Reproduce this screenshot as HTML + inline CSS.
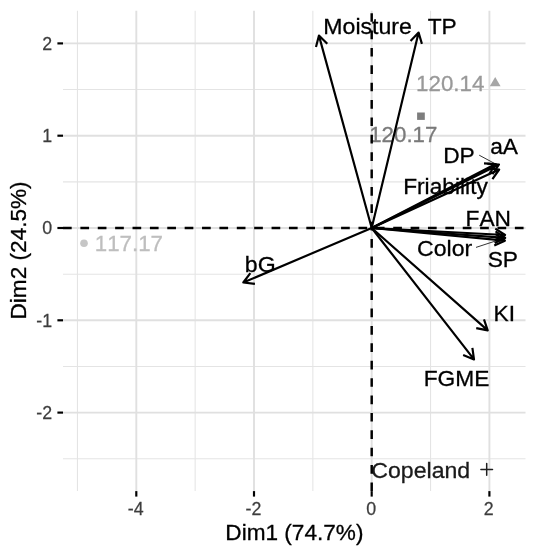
<!DOCTYPE html>
<html lang="en"><head><meta charset="utf-8"><title>PCA biplot</title>
<style>html,body{margin:0;padding:0;background:#fff}body{width:537px;height:550px;overflow:hidden}svg{display:block}text{font-family:"Liberation Sans",sans-serif;font-kerning:none}</style></head><body>
<svg width="537" height="550" viewBox="0 0 537 550">
<rect width="537" height="550" fill="#fff"/>
<g stroke="#e4e4e4" stroke-width="1.05" fill="none">
<line x1="77.45" y1="10.7" x2="77.45" y2="491.1"/>
<line x1="195.15" y1="10.7" x2="195.15" y2="491.1"/>
<line x1="312.85" y1="10.7" x2="312.85" y2="491.1"/>
<line x1="430.55" y1="10.7" x2="430.55" y2="491.1"/>
<line x1="63.0" y1="89.55" x2="525.5" y2="89.55"/>
<line x1="63.0" y1="181.85" x2="525.5" y2="181.85"/>
<line x1="63.0" y1="274.15" x2="525.5" y2="274.15"/>
<line x1="63.0" y1="366.45" x2="525.5" y2="366.45"/>
<line x1="63.0" y1="458.75" x2="525.5" y2="458.75"/>
</g>
<g stroke="#e0e0e0" stroke-width="1.9" fill="none">
<line x1="136.30" y1="10.7" x2="136.30" y2="491.1"/>
<line x1="254.00" y1="10.7" x2="254.00" y2="491.1"/>
<line x1="371.70" y1="10.7" x2="371.70" y2="491.1"/>
<line x1="489.40" y1="10.7" x2="489.40" y2="491.1"/>
<line x1="63.0" y1="43.40" x2="525.5" y2="43.40"/>
<line x1="63.0" y1="135.70" x2="525.5" y2="135.70"/>
<line x1="63.0" y1="228.00" x2="525.5" y2="228.00"/>
<line x1="63.0" y1="320.30" x2="525.5" y2="320.30"/>
<line x1="63.0" y1="412.60" x2="525.5" y2="412.60"/>
</g>
<circle cx="84" cy="243.3" r="3.8" fill="#c6c6c6"/>
<text transform="translate(94.80 250.50) scale(1 1.02)" font-size="22.30" fill="#bebebe" stroke="#bebebe" stroke-width="0.3">117.17</text>
<path d="M495.2 77.0 L500.6 86.3 L489.8 86.3 Z" fill="#a6a6a6"/>
<text transform="translate(416.10 90.90) scale(1 1.02)" font-size="22.30" fill="#999999" stroke="#999999" stroke-width="0.3">120.14</text>
<rect x="417.1" y="112.5" width="7.7" height="7.4" fill="#7d7d7d"/>
<text transform="translate(369.20 142.10) scale(1 1.02)" font-size="22.30" fill="#7a7a7a" stroke="#7a7a7a" stroke-width="0.3">120.17</text>
<path d="M480.9 469.4 H492.5 M486.7 463.6 V475.2" stroke="#1f1f1f" stroke-width="1.5" stroke-linecap="round" fill="none"/>
<text transform="translate(371.33 478.00) scale(1 0.94)" font-size="23.10" fill="#1a1a1a" stroke="#1a1a1a" stroke-width="0.3">Copeland</text>
<g stroke="#000" stroke-width="2.45" fill="none" stroke-dasharray="8.69 8.69">
<line x1="63.0" y1="228.0" x2="525.5" y2="228.0"/>
<line x1="371.7" y1="491.1" x2="371.7" y2="10.7"/>
</g>
<g stroke="#000" stroke-width="2.17" fill="none" stroke-linejoin="round" stroke-linecap="butt">
<path d="M371.7 228.0 L318.95 35.6 M315.99 46.92 L318.95 35.6 L327.27 43.83"/>
<path d="M371.7 228.0 L418.6 32.6 M410.55 41.09 L418.6 32.6 L421.92 43.82"/>
<path d="M371.7 228.0 L499.0 164.5 M487.32 163.79 L499.0 164.5 L492.54 174.26"/>
<path d="M371.7 228.0 L495.7 164.0 M484.01 163.45 L495.7 164.0 L489.38 173.85"/>
<path d="M371.7 228.0 L499.2 169.5 M487.55 168.41 L499.2 169.5 L492.43 179.04"/>
<path d="M371.7 228.0 L505.1 235.0 M495.29 228.63 L505.1 235.0 L494.67 240.31"/>
<path d="M371.7 228.0 L505.2 237.9 M495.53 231.32 L505.2 237.9 L494.66 242.98"/>
<path d="M371.7 228.0 L504.9 240.7 M495.37 233.91 L504.9 240.7 L494.26 245.56"/>
<path d="M371.7 228.0 L487.7 330.4 M483.98 319.31 L487.7 330.4 L476.23 328.08"/>
<path d="M371.7 228.0 L474.0 359.4 M472.39 347.81 L474.0 359.4 L463.16 355.00"/>
<path d="M371.7 228.0 L243.3 282.5 M254.91 283.93 L243.3 282.5 L250.34 273.16"/>
</g>
<g stroke="#000" stroke-width="0.8" fill="none"><line x1="479.2" y1="155.2" x2="494.3" y2="163.3"/><line x1="476.0" y1="247.4" x2="496.5" y2="240.7"/></g>
<text transform="translate(323.31 34.10) scale(1 0.98)" font-size="23.10" fill="#000" stroke="#000" stroke-width="0.3">Moisture</text>
<text transform="translate(427.69 34.40) scale(1 0.98)" font-size="22.76" fill="#000" stroke="#000" stroke-width="0.3">TP</text>
<text transform="translate(443.13 162.60) scale(1 0.98)" font-size="22.76" fill="#000" stroke="#000" stroke-width="0.3">DP</text>
<text transform="translate(490.13 154.40) scale(1 0.94)" font-size="22.76" fill="#000" stroke="#000" stroke-width="0.3">aA</text>
<text transform="translate(403.13 193.70) scale(1 0.94)" font-size="22.76" fill="#000" stroke="#000" stroke-width="0.3">Friability</text>
<text transform="translate(465.53 225.80) scale(1 0.98)" font-size="22.76" fill="#000" stroke="#000" stroke-width="0.3">FAN</text>
<text transform="translate(417.03 256.10) scale(1 0.94)" font-size="23.10" fill="#000" stroke="#000" stroke-width="0.3">Color</text>
<text transform="translate(487.67 267.30) scale(1 0.98)" font-size="22.76" fill="#000" stroke="#000" stroke-width="0.3">SP</text>
<text transform="translate(493.53 321.10) scale(1 0.98)" font-size="22.76" fill="#000" stroke="#000" stroke-width="0.3">KI</text>
<text transform="translate(423.73 385.70) scale(1 0.98)" font-size="22.76" fill="#000" stroke="#000" stroke-width="0.3">FGME</text>
<text transform="translate(244.81 272.30) scale(1 0.94)" font-size="23.10" fill="#000" stroke="#000" stroke-width="0.3">bG</text>
<g stroke="#000" stroke-width="2.17" fill="none">
<line x1="136.30" y1="491.1" x2="136.30" y2="496.6"/>
<line x1="254.00" y1="491.1" x2="254.00" y2="496.6"/>
<line x1="371.70" y1="491.1" x2="371.70" y2="496.6"/>
<line x1="489.40" y1="491.1" x2="489.40" y2="496.6"/>
<line x1="57.4" y1="43.40" x2="63.0" y2="43.40"/>
<line x1="57.4" y1="135.70" x2="63.0" y2="135.70"/>
<line x1="57.4" y1="228.00" x2="63.0" y2="228.00"/>
<line x1="57.4" y1="320.30" x2="63.0" y2="320.30"/>
<line x1="57.4" y1="412.60" x2="63.0" y2="412.60"/>
</g>
<text transform="translate(135.70 515.0) scale(1 1.043)" font-size="17.8" fill="#3d3d3d" stroke="#3d3d3d" stroke-width="0.25" text-anchor="middle">-4</text>
<text transform="translate(253.40 515.0) scale(1 1.043)" font-size="17.8" fill="#3d3d3d" stroke="#3d3d3d" stroke-width="0.25" text-anchor="middle">-2</text>
<text transform="translate(371.10 515.0) scale(1 1.043)" font-size="17.8" fill="#3d3d3d" stroke="#3d3d3d" stroke-width="0.25" text-anchor="middle">0</text>
<text transform="translate(488.80 515.0) scale(1 1.043)" font-size="17.8" fill="#3d3d3d" stroke="#3d3d3d" stroke-width="0.25" text-anchor="middle">2</text>
<text transform="translate(52.1 49.75) scale(1 1.043)" font-size="17.8" fill="#3d3d3d" stroke="#3d3d3d" stroke-width="0.25" text-anchor="end">2</text>
<text transform="translate(52.1 142.05) scale(1 1.043)" font-size="17.8" fill="#3d3d3d" stroke="#3d3d3d" stroke-width="0.25" text-anchor="end">1</text>
<text transform="translate(52.1 234.35) scale(1 1.043)" font-size="17.8" fill="#3d3d3d" stroke="#3d3d3d" stroke-width="0.25" text-anchor="end">0</text>
<text transform="translate(52.1 326.65) scale(1 1.043)" font-size="17.8" fill="#3d3d3d" stroke="#3d3d3d" stroke-width="0.25" text-anchor="end">-1</text>
<text transform="translate(52.1 418.95) scale(1 1.043)" font-size="17.8" fill="#3d3d3d" stroke="#3d3d3d" stroke-width="0.25" text-anchor="end">-2</text>
<text transform="translate(294.4 539.6) scale(1 1)" font-size="22.6" fill="#000" stroke="#000" stroke-width="0.3" text-anchor="middle">Dim1 (74.7%)</text>
<text transform="translate(25.6 250.4) rotate(-90) scale(1 1)" font-size="22.6" fill="#000" stroke="#000" stroke-width="0.3" text-anchor="middle">Dim2 (24.5%)</text>
</svg></body></html>
